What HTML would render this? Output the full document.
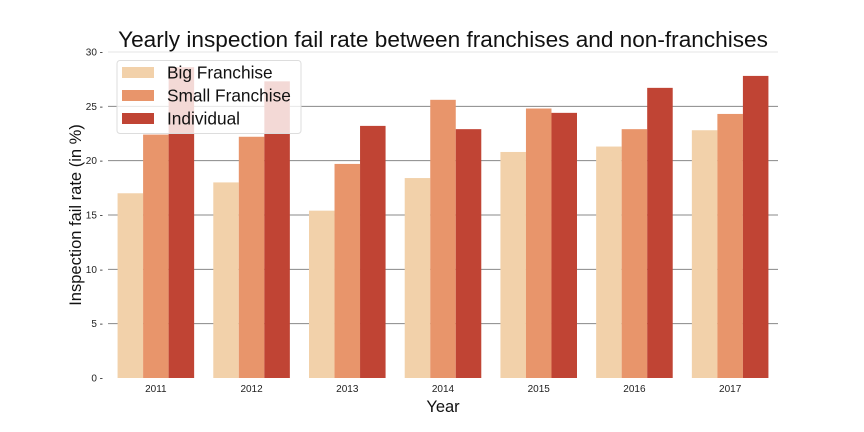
<!DOCTYPE html>
<html><head><meta charset="utf-8"><style>
body{margin:0;background:#fff;}
svg{display:block;font-family:"Liberation Sans","DejaVu Sans",sans-serif;}
</style></head><body>
<svg id="chart" width="864" height="432">
<text x="443" y="47" text-anchor="middle" font-size="22.6" fill="#111">Yearly inspection fail rate between franchises and non-franchises</text>
<text x="443" y="412" text-anchor="middle" font-size="16.5" fill="#111">Year</text>
<text transform="translate(81,215) rotate(-90)" text-anchor="middle" font-size="16.5" fill="#111">Inspection fail rate (in %)</text>
<g id="grid"></g><g id="bars"></g><g id="ticks"></g><g id="legend"></g>
</svg>
<script>
const years=["2011","2012","2013","2014","2015","2016","2017"];
const bigFranchise=[17.0,18.0,15.4,18.4,20.8,21.3,22.8];
const smallFranchise=[22.4,22.2,19.7,25.6,24.8,22.9,24.3];
const individual=[28.6,27.3,23.2,22.9,24.4,26.7,27.8];
const yTicks=[0,5,10,15,20,25,30];
const seriesNames=["Big Franchise","Small Franchise","Individual"];
const colors=["#f2d1aa","#e8956b","#c04434"];
const ns="http://www.w3.org/2000/svg";
const L=108,R=778,T=52,B=378;
const x=i=>L+(i+0.5)*(R-L)/years.length;
const y=v=>B-v*(B-T)/30;
const bw=0.8*(R-L)/years.length/3;
function mk(t,a,p){const e=document.createElementNS(ns,t);for(const k in a)e.setAttribute(k,a[k]);p.appendChild(e);return e;}
const grid=document.getElementById('grid'),ticks=document.getElementById('ticks');
yTicks.forEach(v=>{
 if(v>0){const l=mk('line',{x1:L,x2:R,y1:y(v),y2:y(v),stroke:v==30?'#e6e6e6':'#888','stroke-width':1},grid);
 
 }
 const t=mk('text',{x:103,y:y(v)+3.5,'text-anchor':'end','font-size':10,fill:'#222'},ticks);t.textContent=v+' -';
 
 
});
const bars=document.getElementById('bars');
[bigFranchise,smallFranchise,individual].forEach((s,si)=>{
 s.forEach((v,i)=>{
  const r=mk('rect',{x:x(i)+(si-1.5)*bw,y:y(v),width:bw,height:y(0)-y(v),fill:colors[si]},bars);
  
  
 });
});
years.forEach((yr,i)=>{
 const t=mk('text',{x:x(i),y:392,'text-anchor':'middle','font-size':10,fill:'#222'},ticks);t.textContent=yr;
 
 
});
const lg=document.getElementById('legend');


mk('rect',{x:117,y:60.5,width:184,height:73,rx:3,fill:'rgba(255,255,255,0.8)',stroke:'#ddd'},lg);
seriesNames.forEach((n,i)=>{
 const g=mk('g',{},lg);
 
 
 mk('rect',{x:122,y:67+i*23,width:32,height:11,fill:colors[i]},g);
 const t=mk('text',{x:167,y:78.5+i*23,'font-size':17.3,fill:'#111'},g);t.textContent=n;
});
</script>
</body></html>
